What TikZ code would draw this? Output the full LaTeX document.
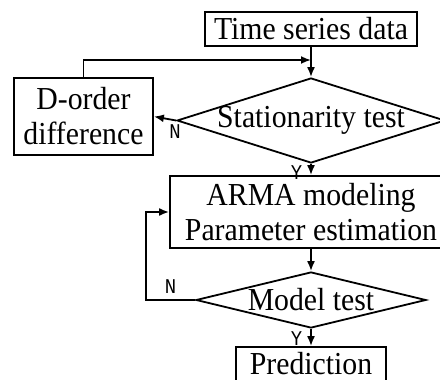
\documentclass[tikz,border=0pt]{standalone}
\usepackage{fontspec}
\setmainfont[FakeStretch=0.93]{Liberation Serif}
\newfontfamily\ynfont[FakeStretch=0.9]{Liberation Mono}
\usetikzlibrary{shapes.geometric,arrows.meta}

\tikzset{
  block/.style={draw, line width=1.8pt, inner sep=0pt, align=center,
    font=\fontsize{32}{35}\selectfont},
  decision/.style={draw, diamond, line width=1.8pt, inner sep=0pt},
  txt/.style={font=\fontsize{32}{35}\selectfont, inner sep=0pt},
  arr/.style={line width=1.8pt, -{Latex[length=10pt,width=8pt]}},
  yn/.style={font=\ynfont\fontsize{21}{21}\selectfont, inner sep=0pt}
}

\begin{document}
\begin{tikzpicture}[x=1pt,y=-1pt]
    \useasboundingbox (0,0) rectangle (440,380);

    % Cajas del diagrama
    \node[block, minimum width=212pt, minimum height=34pt] (data) at (311,29) {Time series data};
    \node[decision, minimum width=268pt, minimum height=85pt,
          label={[txt]center:Stationarity test}] (stat) at (311,120.5) {};
    \node[block, minimum width=139pt, minimum height=77pt] (diff) at (83.5,116.5) {D-order\\difference};
    \node[block, minimum width=282pt, minimum height=72pt] (arma) at (311,212) {ARMA modeling\\Parameter estimation};
    \node[decision, minimum width=230pt, minimum height=56pt,
          label={[txt]center:Model test}] (mtest) at (311,300) {};
    \node[block, minimum width=150pt, minimum height=34pt] (pred) at (311,364) {Prediction};

    % Flechas
    \coordinate (join) at (311,60);
    \draw[arr] (data) -- (stat);
    \draw[arr] (diff.north) |- (join);
    \draw[arr] (stat.west) -- (diff.east)
        node[yn, pos=0, anchor=north, xshift=-1pt, yshift=-3pt] {N};
    \draw[arr] (stat.south) -- (arma.north)
        node[yn, pos=0, anchor=north east, xshift=-8pt, yshift=-1pt] {Y};
    \draw[arr] (arma.south) -- (mtest.north);
    \draw[arr] (mtest.west) -- node[yn, above=6pt] {N} ++(-49,0) |- (arma.west);
    \draw[arr] (mtest.south) -- (pred.north)
        node[yn, pos=0, anchor=north east, xshift=-8pt, yshift=-2pt] {Y};
\end{tikzpicture}
\end{document}
